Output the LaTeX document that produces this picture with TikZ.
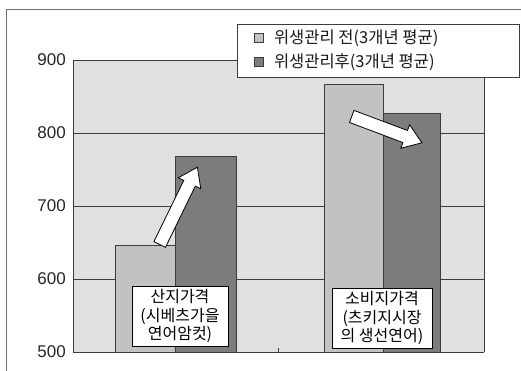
\documentclass[tikz,border=0pt]{standalone}
\usepackage{fontspec}
\setmainfont{Liberation Sans}
\newfontfamily\kofont{Noto Sans CJK KR}
\usepackage{tikz}
\usetikzlibrary{positioning, shapes.arrows, calc}
\definecolor{plotbg}{RGB}{224,224,224}
\definecolor{beforebar}{RGB}{194,194,194}
\definecolor{afterbar}{RGB}{124,124,124}
\definecolor{gridline}{RGB}{60,60,60}
\definecolor{framegray}{RGB}{110,110,110}

\begin{document}
\begin{tikzpicture}[
  x=1pt, y=-1pt,
  bar/.style={draw=gridline, line width=0.8pt},
  labelbox/.style={
    rectangle, draw=black, fill=white, line width=0.7pt,
    align=center, font=\kofont\fontsize{16}{18.5}\selectfont,
    inner sep=1pt, minimum height=60pt
  },
  trend/.style={
    single arrow, draw=black, fill=white, line width=0.8pt,
    inner sep=6pt, single arrow head extend=6pt,
    single arrow tip angle=70, anchor=center
  },
  ylab/.style={anchor=east, font=\fontsize{17}{18}\selectfont, text=black!85, inner sep=0pt},
  legmark/.style={rectangle, draw=gridline, line width=0.6pt, minimum size=9pt, inner sep=0pt},
  legtext/.style={font=\kofont\fontsize{16.5}{18}\selectfont, inner sep=0pt, text=black!90}
]

\useasboundingbox (0,0) rectangle (521,371);

% outer frame
\draw[framegray, line width=0.6pt] (521,9) -- (6,9) -- (6,371);

% plot area and grid
\fill[plotbg] (73,60) rectangle (484,352);
\foreach \gy in {133,206,279}
  \draw[gridline, line width=0.8pt] (73,\gy) -- (484,\gy);
\draw[gridline, line width=0.8pt] (73,352) -- (73,60) -- (484,60) -- (484,352);

% y labels
\foreach \val/\gy in {900/60, 800/133, 700/206, 600/279, 500/352}
  \node[ylab] (y\val) at (66,\gy) {\val};

% bars
\filldraw[bar, fill=beforebar] (115,352) rectangle (175,245);
\filldraw[bar, fill=afterbar]  (175,352) rectangle (236,156);
\filldraw[bar, fill=beforebar] (324,352) rectangle (383,84);
\filldraw[bar, fill=afterbar]  (383,352) rectangle (440,113);

% axis
\draw[gridline, line width=0.9pt] (73,352) -- (484,352);
\draw[gridline, line width=0.8pt] (278,352) -- (278,348);

% trend arrows
\node[trend, minimum height=86pt, minimum width=25pt, rotate=64] (up) at (176.5,210) {};
\node[trend, minimum height=75pt, minimum width=25pt, rotate=-20.6] (down) at (382.5,128) {};

% category labels
\node[labelbox, minimum width=96pt] (origin) at (180,316) {산지가격\\(시베츠가을\\연어암컷)};
\node[labelbox, minimum width=100pt] (market) at (382,318) {소비지가격\\(츠키지시장\\의 생선연어)};

% legend
\node[rectangle, draw=gridline, fill=white, line width=0.7pt,
      minimum width=282pt, minimum height=53pt] (legend) at (378,50.5) {};
\node[legmark, fill=beforebar] (m1) at (259,38) {};
\node[legtext, right=10pt of m1] (t1) {위생관리 전(3개년 평균)};
\node[legmark, fill=afterbar] (m2) at (259,62) {};
\node[legtext, right=10pt of m2] (t2) {위생관리후(3개년 평균)};

\end{tikzpicture}
\end{document}
